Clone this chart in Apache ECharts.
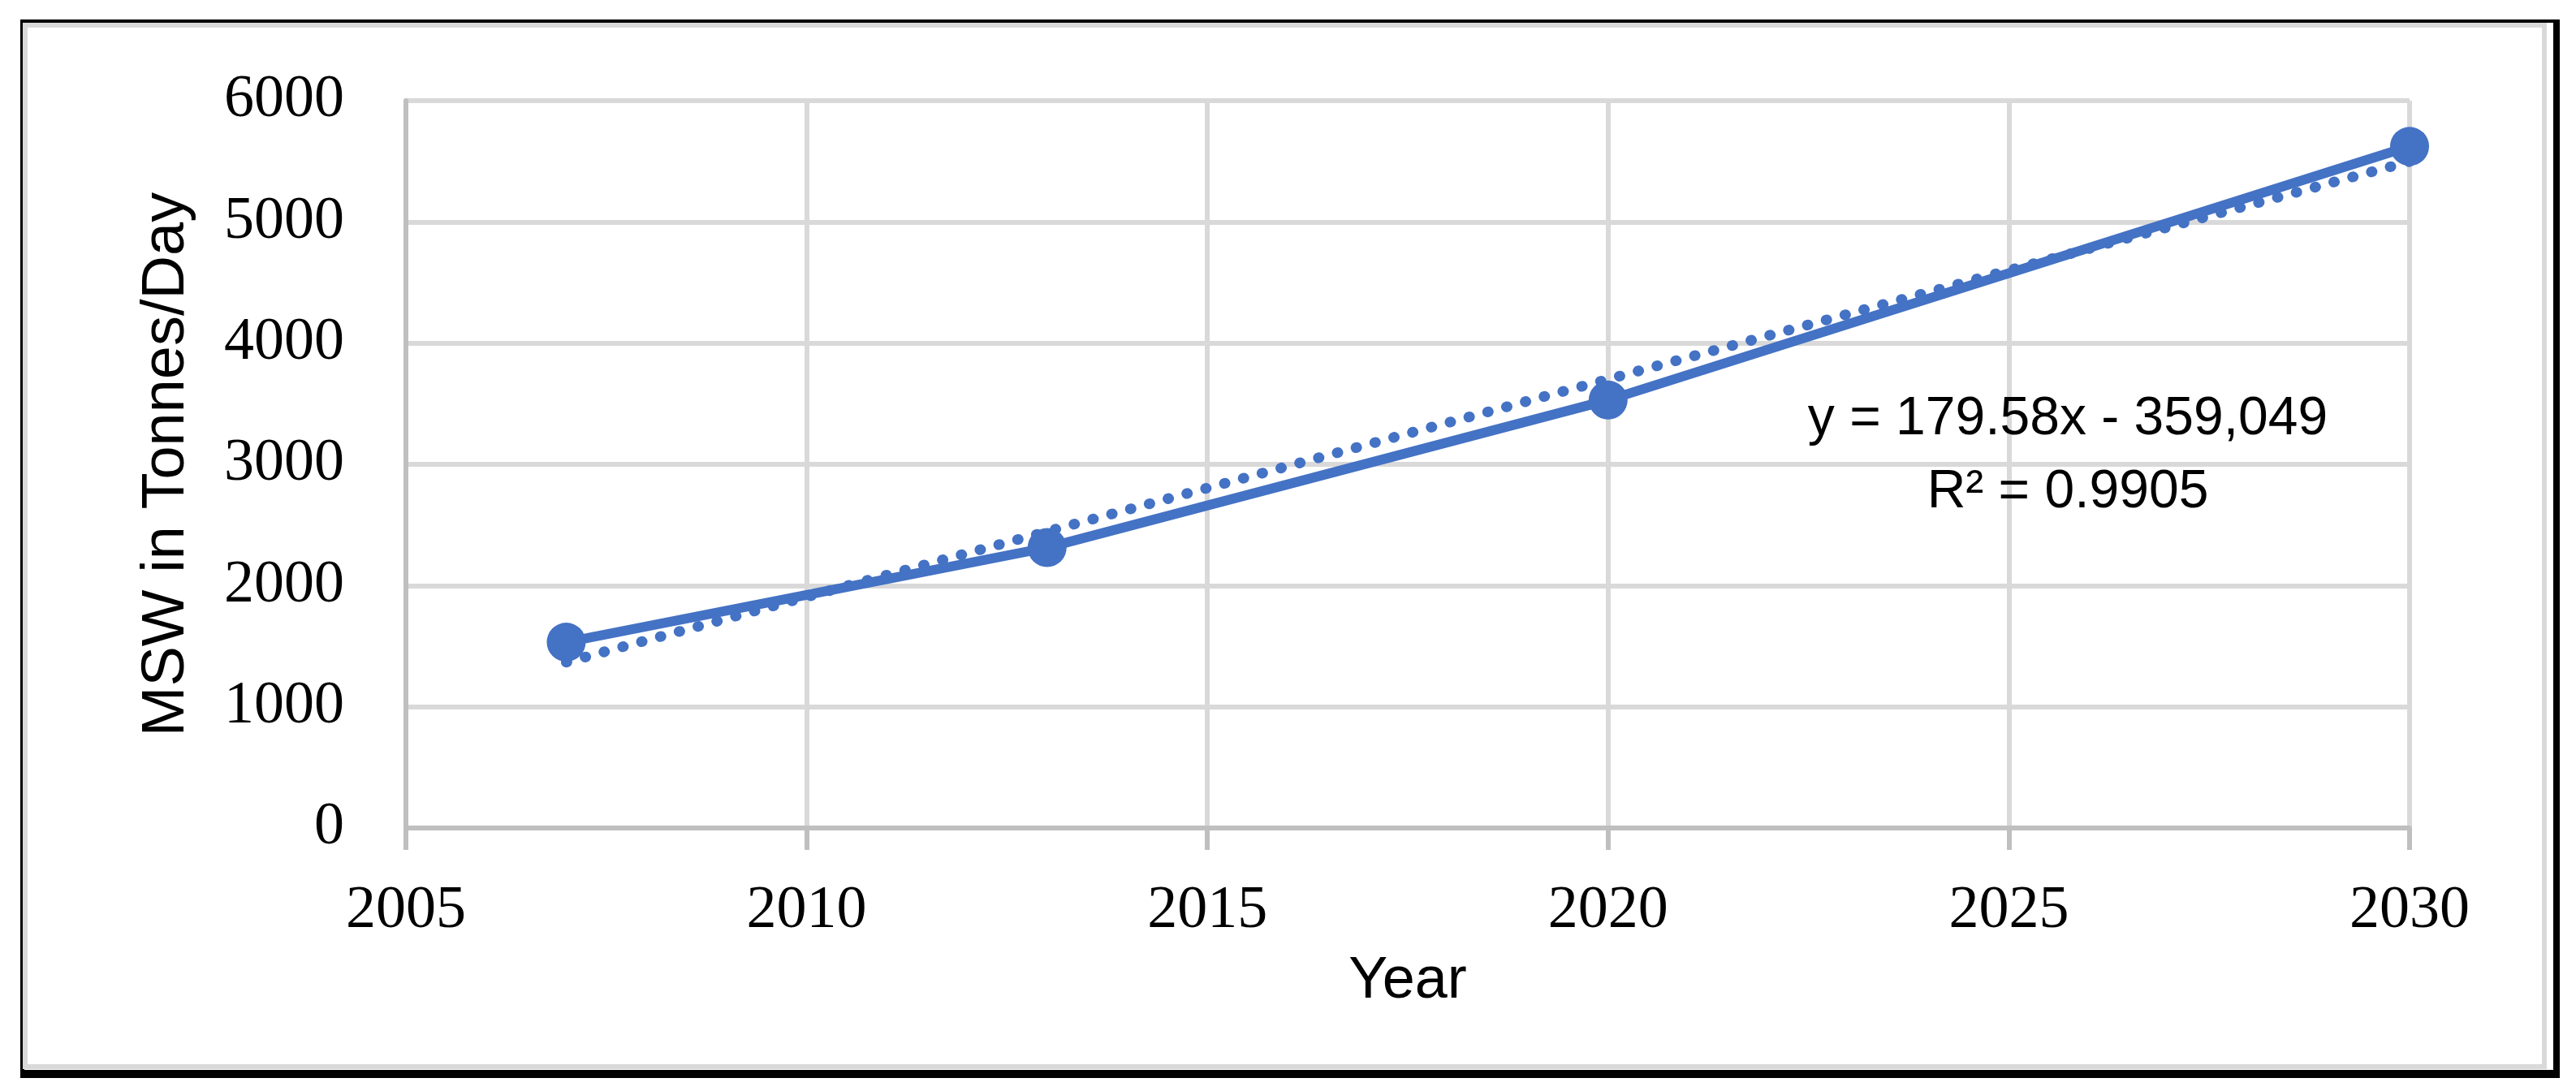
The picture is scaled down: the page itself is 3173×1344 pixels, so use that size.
<!DOCTYPE html>
<html>
<head>
<meta charset="utf-8">
<title>MSW in Tonnes/Day</title>
<script src="https://cdn.jsdelivr.net/npm/echarts@6/dist/echarts.min.js"></script>
<style>
  html, body { margin: 0; padding: 0; background: #ffffff; }
  #chart { width: 3173px; height: 1344px; }
</style>
</head>
<body>
<div id="chart"></div>
<script>
// values
const years = [2007, 2013, 2020, 2030];
const mswPerDay = [1533, 2313, 3530, 5623];
// linear trendline end points (y = 179.58x - 359,049)
const trendYears = [2007, 2030];
const trendValues = [1368, 5498];
const trendText = ['y = 179.58x - 359,049', 'R\u00b2 = 0.9905'];

document.addEventListener('DOMContentLoaded', function() {
    initializeChart();
});

function initializeChart() {
    const blue = '#4472c4';
    const gridColor = '#d9d9d9';
    const axisColor = '#bfbfbf';
    const serif = '"Liberation Serif", "DejaVu Serif", serif';
    const sans = '"Liberation Sans", Arial, sans-serif';

    const chart = echarts.init(document.getElementById('chart'));

    // plain numbers, no thousands separator
    const plain = function(v) { return String(v); };

    const option = {
        animation: false,
        backgroundColor: '#ffffff',
        grid: {
            left: 500,
            right: 205,
            top: 124,
            bottom: 324,
            containLabel: false,
            outerBoundsMode: 'none'
        },
        graphic: [
            // frame: black outer box, gray inner line
            {
                type: 'rect', z: -10, silent: true,
                shape: { x: 25, y: 24, width: 3128, height: 1304 },
                style: { fill: '#000000' }
            },
            {
                type: 'rect', z: -9, silent: true,
                shape: { x: 30, y: 28, width: 3115, height: 1290 },
                style: { fill: '#ffffff' }
            },
            {
                type: 'rect', z: -8, silent: true,
                shape: { x: 31, y: 31, width: 3103, height: 1283 },
                style: { fill: null, stroke: gridColor, lineWidth: 6 }
            },
            {
                type: 'text', z: 10, silent: true,
                x: 2547, y: 472,
                style: {
                    text: trendText.join('\n'),
                    textAlign: 'center',
                    textVerticalAlign: 'top',
                    font: '66px ' + sans,
                    lineHeight: 90,
                    fill: '#000000'
                }
            }
        ],
        xAxis: {
            type: 'value',
            min: 2005,
            max: 2030,
            interval: 5,
            name: 'Year',
            nameLocation: 'middle',
            nameGap: 153,
            nameTextStyle: {
                color: '#000000',
                fontFamily: sans,
                fontSize: 72
            },
            axisLine: {
                show: true,
                lineStyle: { color: axisColor, width: 6 }
            },
            axisTick: {
                show: true,
                length: 27,
                lineStyle: { color: axisColor, width: 6 }
            },
            axisLabel: {
                color: '#000000',
                fontFamily: serif,
                fontSize: 74,
                margin: 66,
                formatter: plain
            },
            splitLine: {
                show: true,
                lineStyle: { color: gridColor, width: 6 }
            }
        },
        yAxis: {
            type: 'value',
            min: 0,
            max: 6000,
            interval: 1000,
            name: 'MSW in Tonnes/Day',
            nameLocation: 'middle',
            nameRotate: 90,
            nameGap: 257,
            nameTextStyle: {
                color: '#000000',
                fontFamily: sans,
                fontSize: 74
            },
            axisLine: {
                show: true,
                lineStyle: { color: axisColor, width: 6 }
            },
            axisTick: { show: false },
            axisLabel: {
                color: '#000000',
                fontFamily: serif,
                fontSize: 74,
                margin: 76,
                formatter: plain
            },
            splitLine: {
                show: true,
                lineStyle: { color: gridColor, width: 6 }
            }
        },
        series: [
            {
                name: 'Linear trend',
                type: 'line',
                z: 2,
                symbol: 'none',
                lineStyle: {
                    color: blue,
                    width: 13,
                    type: [1, 23],
                    cap: 'round'
                },
                data: trendYears.map(function(x, i) { return [x, trendValues[i]]; })
            },
            {
                name: 'MSW',
                type: 'line',
                z: 3,
                symbol: 'circle',
                symbolSize: 48,
                itemStyle: { color: blue },
                lineStyle: { color: blue, width: 12 },
                data: years.map(function(x, i) { return [x, mswPerDay[i]]; })
            }
        ]
    };

    chart.setOption(option);

    window.addEventListener('resize', function() {
        chart.resize();
    });
}
</script>
</body>
</html>
